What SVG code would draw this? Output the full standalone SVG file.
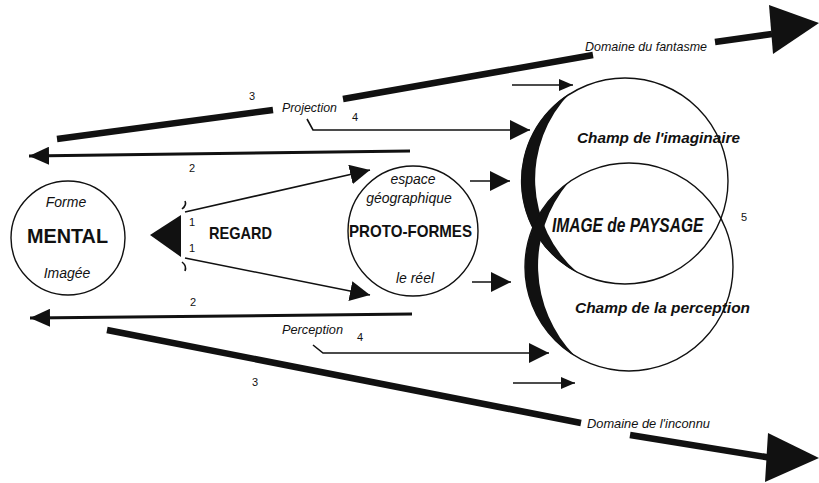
<svg xmlns="http://www.w3.org/2000/svg" width="819" height="483" viewBox="0 0 819 483">
  <defs>
    <style>
      .bg { fill: #ffffff; }
      .ring { fill: none; stroke: #111; stroke-width: 1.4; }
      .ink { fill: #111; }
      .thin { fill: none; stroke: #111; stroke-width: 1.6; }
      .mid { fill: none; stroke: #111; stroke-width: 3; }
      .heavy { fill: none; stroke: #111; stroke-width: 6.5; stroke-linecap: butt; }
      text { font-family: "Liberation Sans", Arial, sans-serif; fill: #111; }
      .it { font-style: italic; font-size: 13px; }
      .sm { font-style: italic; font-size: 14px; }
      .num { font-size: 11px; }
      .big { font-weight: bold; }
      .bi { font-weight: bold; font-style: italic; }
      .c { text-anchor: middle; }
    </style>
    <marker id="head-m" viewBox="0 0 20 20" markerWidth="20" markerHeight="20" markerUnits="userSpaceOnUse" refX="20" refY="10" orient="auto">
      <path d="M0,0 L20,10 L0,20 Z" fill="#111"/>
    </marker>
    <marker id="head-s" viewBox="0 0 14 12" markerWidth="14" markerHeight="12" markerUnits="userSpaceOnUse" refX="14" refY="6" orient="auto">
      <path d="M0,0 L14,6 L0,12 Z" fill="#111"/>
    </marker>
    <marker id="head-l" viewBox="0 0 20 18" markerWidth="20" markerHeight="18" markerUnits="userSpaceOnUse" refX="20" refY="9" orient="auto">
      <path d="M0,0 L20,9 L0,18 Z" fill="#111"/>
    </marker>
  </defs>

  <rect class="bg" x="0" y="0" width="819" height="483"/>

  <!-- nodes -->
  <g id="mental">
    <circle class="ring" cx="68" cy="238" r="57"/>
    <text class="sm c" x="66" y="207">Forme</text>
    <text class="big c" x="67.5" y="243" font-size="21" textLength="81" lengthAdjust="spacingAndGlyphs">MENTAL</text>
    <text class="sm c" x="67" y="278">Imagée</text>
  </g>

  <g id="regard">
    <polygon class="ink" points="150,235 181,215 181,257"/>
    <text class="big" x="209" y="239" font-size="17" textLength="63" lengthAdjust="spacingAndGlyphs">REGARD</text>
    <text class="num c" x="192" y="226">1</text>
    <text class="num c" x="192" y="252">1</text>
    <path class="thin" d="M182,209 Q187,205 185,201"/>
    <path class="thin" d="M182,262 Q187,266 185,271"/>
  </g>

  <g id="proto-formes">
    <circle class="ring" cx="413" cy="231" r="65"/>
    <text class="sm c" x="413" y="184">espace</text>
    <text class="sm c" x="409" y="203">géographique</text>
    <text class="big c" x="410.5" y="237" font-size="17" textLength="123" lengthAdjust="spacingAndGlyphs">PROTO-FORMES</text>
    <text class="sm c" x="415" y="283">le réel</text>
  </g>

  <g id="image-de-paysage">
    <circle class="ring" cx="625" cy="181" r="103"/>
    <circle class="ring" cx="629" cy="267" r="104"/>
    <!-- heavy crescents along the left of both fields -->
    <path class="ink" d="M570,93 A103,103 0 0 0 578,273 A124,124 0 0 1 570,93 Z"/>
    <path class="ink" d="M568,183 A104,104 0 0 0 575,356 A129,129 0 0 1 568,183 Z"/>
    <text class="bi" x="577" y="143" font-size="15" textLength="163" lengthAdjust="spacingAndGlyphs">Champ de l'imaginaire</text>
    <!-- narrow heading: horizontally condensed -->
    <text class="bi" transform="translate(552,232) scale(0.74,1)" x="0" y="0" font-size="21">IMAGE de PAYSAGE</text>
    <text class="bi" x="575" y="313" font-size="15" textLength="175" lengthAdjust="spacingAndGlyphs">Champ de la perception</text>
    <text class="num c" x="744" y="221">5</text>
  </g>

  <!-- connectors -->
  <g id="connectors">
    <!-- 3 : domain of fantasy -->
    <line class="heavy" x1="57" y1="139" x2="273" y2="110"/>
    <line class="heavy" x1="343" y1="99" x2="593" y2="55"/>
    <line class="heavy" x1="715" y1="42" x2="772" y2="34" stroke-width="8"/>
    <polygon class="ink" points="769,5 819,23 773,54"/>
    <text class="it" x="282" y="112" textLength="55" lengthAdjust="spacingAndGlyphs">Projection</text>
    <text class="it" x="585" y="51" textLength="122" lengthAdjust="spacingAndGlyphs">Domaine du fantasme</text>
    <text class="num c" x="252" y="100">3</text>

    <!-- 4 : projection -->
    <path class="thin" d="M307,119 L313,130 L530,130" marker-end="url(#head-m)"/>
    <text class="num c" x="355" y="121">4</text>

    <!-- 2 : return to the mind, top -->
    <path class="mid" d="M410,151 L29,156" marker-end="url(#head-l)"/>
    <text class="num c" x="192" y="172">2</text>

    <!-- 1 : gaze towards proto-forms -->
    <line class="thin" x1="185" y1="212" x2="370" y2="170" marker-end="url(#head-m)"/>
    <line class="thin" x1="185" y1="258" x2="370" y2="295" marker-end="url(#head-m)"/>

    <!-- proto-forms to the landscape image -->
    <line class="thin" x1="470" y1="181" x2="510" y2="181" marker-end="url(#head-m)"/>
    <line class="thin" x1="472" y1="282" x2="511" y2="282" marker-end="url(#head-m)"/>
    <line class="thin" x1="512" y1="85" x2="573" y2="85" marker-end="url(#head-s)"/>
    <line class="thin" x1="513" y1="383" x2="575" y2="383" marker-end="url(#head-s)"/>

    <!-- 2 : return to the mind, bottom -->
    <path class="mid" d="M412,314 L30,318" marker-end="url(#head-l)"/>
    <text class="num c" x="193" y="306">2</text>

    <!-- 4 : perception -->
    <path class="thin" d="M313,345 L323,353 L549,353" marker-end="url(#head-m)"/>
    <text class="it" x="282" y="334" textLength="61" lengthAdjust="spacingAndGlyphs">Perception</text>
    <text class="num c" x="360" y="341">4</text>

    <!-- 3 : domain of the unknown -->
    <line class="heavy" x1="107" y1="330" x2="581" y2="423"/>
    <line class="heavy" x1="630" y1="435" x2="772" y2="458" stroke-width="8"/>
    <polygon class="ink" points="768,433 819,458 765,482"/>
    <text class="it" x="587" y="428" textLength="123" lengthAdjust="spacingAndGlyphs">Domaine de l'inconnu</text>
    <text class="num c" x="255" y="386">3</text>
  </g>
</svg>
